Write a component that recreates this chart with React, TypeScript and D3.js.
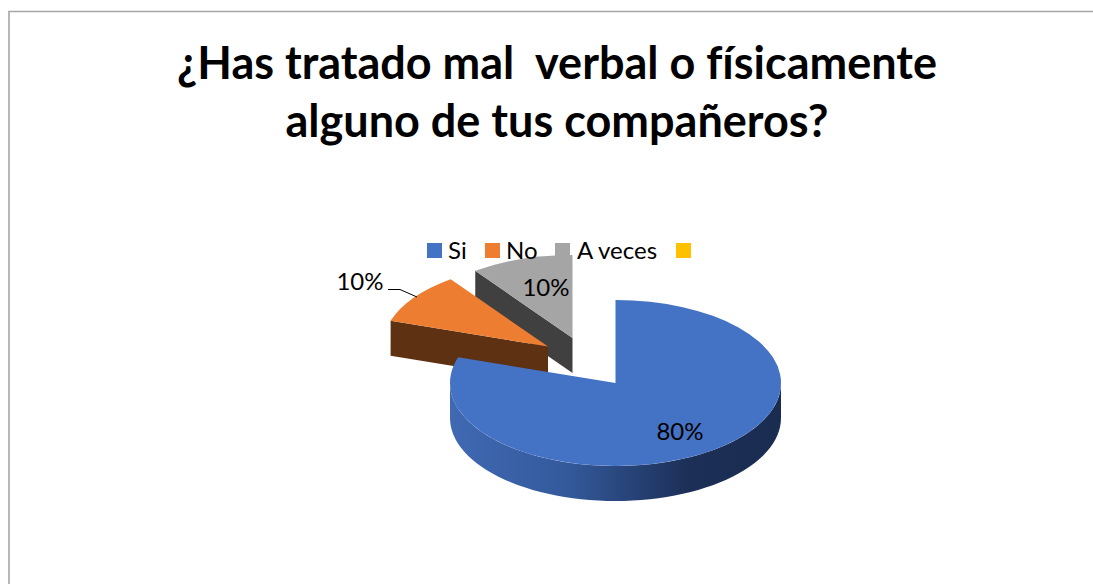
import React from "react";
import * as d3 from "d3";

const titleLines = ["¿Has tratado mal  verbal o físicamente", "alguno de tus compañeros?"];
const categories = ["Si", "No", "A veces", ""];
const values = [80, 10, 10, 0];
const labels = ["80%", "10%", "10%"];
const colors = ["#4472C4", "#ED7D31", "#A5A5A5", "#FFC000"];
const wallColors = ["#2f528f", "#5f3113", "#404040"];

const font = "Lato, Carlito, Calibri, sans-serif";
const RX = 165.5;
const RY = 83;
const DEPTH = 35;
const apex = [
  { x: 615.5, y: 383 },
  { x: 548, y: 346.5 },
  { x: 572.5, y: 338 },
];
const legendSwatchX = [427, 485, 555, 676];
const legendTextX = [448, 506, 577];

const pieGen = d3.pie<number>().sort(null).value((d) => d);
const arcs = pieGen(values);
const arcGen = d3.arc<any>().innerRadius(0).outerRadius(RX);

const pt = (a: number, depth = 0) => [RX * Math.sin(a), -RY * Math.cos(a) + depth] as [number, number];

function blueWall() {
  const a0 = Math.PI / 2;
  const a1 = (3 * Math.PI) / 2;
  const ang = d3.range(0, 61).map((i) => a0 + ((a1 - a0) * i) / 60);
  const top = ang.map((a) => pt(a));
  const bottom = ang.slice().reverse().map((a) => pt(a, DEPTH));
  return d3.line()([...top, ...bottom]) + "Z";
}

function edgeWall(angle: number, depth = DEPTH) {
  const p = pt(angle);
  return d3.line()([[0, 0], p, [p[0], p[1] + depth], [0, depth]]) + "Z";
}

export default function App() {
  return (
    <svg
      width={1093}
      height={584}
      style={{ position: "absolute", left: 0, top: 0, background: "#fff" }}
      fontFamily={font}
    >
      <defs>
        <linearGradient id="wallGrad" x1="0" x2="1" y1="0" y2="0">
          <stop offset="0" stopColor="#4069b3" />
          <stop offset="0.35" stopColor="#345a9c" />
          <stop offset="0.72" stopColor="#1c2f57" />
          <stop offset="1" stopColor="#1a2c50" />
        </linearGradient>
      </defs>
      <path d="M9,584V11.5H1093" fill="none" stroke="#a6a6a6" strokeWidth={1.6} />

      {titleLines.map((t, i) => (
        <text
          key={i}
          x={557}
          y={79 + i * 58}
          textAnchor="middle"
          fontSize={45}
          fontWeight={700}
          fill="#000"
          style={{ whiteSpace: "pre", fontVariantLigatures: "none" }}
        >
          {t}
        </text>
      ))}

      {/* gray slice */}
      <g transform={`translate(${apex[2].x},${apex[2].y})`}>
        <path d={edgeWall(arcs[2].startAngle)} fill={wallColors[2]} />
        <path d={arcGen(arcs[2]) as string} transform={`scale(1,${RY / RX})`} fill={colors[2]} />
      </g>
      {/* orange slice */}
      <g transform={`translate(${apex[1].x},${apex[1].y})`}>
        <path d={edgeWall(arcs[1].startAngle)} fill={wallColors[1]} />
        <path d={arcGen(arcs[1]) as string} transform={`scale(1,${RY / RX})`} fill={colors[1]} />
      </g>
      {/* blue slice */}
      <g transform={`translate(${apex[0].x},${apex[0].y})`}>
        <path d={blueWall()} fill="url(#wallGrad)" />
        <path d={arcGen(arcs[0]) as string} transform={`scale(1,${RY / RX})`} fill={colors[0]} />
      </g>

      {/* legend */}
      {categories.map((c, i) => (
        <g key={i}>
          <rect x={legendSwatchX[i]} y={243} width={15} height={15} fill={colors[i]} />
          {c && (
            <text x={legendTextX[i]} y={259} fontSize={24} fill="#000">
              {c}
            </text>
          )}
        </g>
      ))}

      {/* data labels */}
      <text x={680} y={440} textAnchor="middle" fontSize={24} fill="#000">{labels[0]}</text>
      <text x={360} y={290} textAnchor="middle" fontSize={24} fill="#000">{labels[1]}</text>
      <text x={546} y={296} textAnchor="middle" fontSize={24} fill="#000">{labels[2]}</text>
      <path d="M388,289.5H400L417,297" fill="none" stroke="#000" strokeWidth={1} />
    </svg>
  );
}
